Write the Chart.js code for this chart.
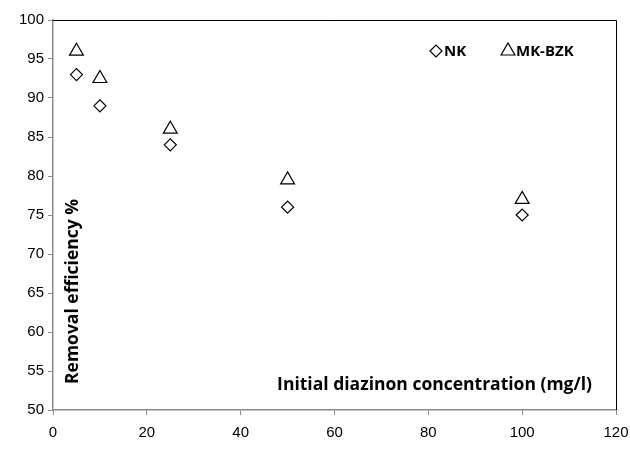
<!DOCTYPE html>
<html>
<head>
<meta charset="utf-8">
<script src="https://cdn.jsdelivr.net/npm/chart.js@4"></script>
<style>
  body { margin: 0; background: #fff; }
  #wrap { width: 630px; height: 449px; }
</style>
</head>
<body>
<div id="wrap"><canvas id="chart"></canvas></div>
<script>
const concentrations = [5, 10, 25, 50, 100]
const nkValues = [93, 89, 84, 76, 75]
const mkbzkValues = [96, 92.5, 86, 79.5, 77]
const seriesNames = ['NK', 'MK-BZK']
const xTitle = 'Initial diazinon concentration (mg/l)'
const yTitle = 'Removal efficiency %'

const toPoints = (xs, ys) => xs.map((x, i) => ({ x: x, y: ys[i] }))

// axis titles, legend and the black top/right frame are drawn inside the plot area
const insidePlugin = {
  id: 'inside',
  afterDraw(chart) {
    const { ctx, chartArea: a } = chart
    ctx.save()
    ctx.strokeStyle = '#000'
    ctx.lineWidth = 1
    ctx.beginPath()
    ctx.moveTo(a.left, a.top + 0.5)
    ctx.lineTo(a.right + 0.5, a.top + 0.5)
    ctx.lineTo(a.right + 0.5, a.bottom)
    ctx.stroke()

    ctx.fillStyle = '#000'
    ctx.font = 'bold 17.5px "Open Sans"'
    ctx.textBaseline = 'middle'
    ctx.textAlign = 'right'
    ctx.fillText(xTitle, 592, 385)

    ctx.save()
    ctx.translate(73, 384)
    ctx.rotate(-Math.PI / 2)
    ctx.textAlign = 'left'
    ctx.fillText(yTitle, 0, 0)
    ctx.restore()

    // legend
    ctx.font = 'bold 15px "Open Sans"'
    ctx.textAlign = 'left'
    const legendX = [436, 508]
    chart.data.datasets.forEach((d, i) => {
      ctx.fillStyle = '#fff'
      ctx.strokeStyle = '#000'
      ctx.lineWidth = 1.2
      Chart.helpers.drawPoint(ctx, {
        pointStyle: d.pointStyle, radius: d.pointRadius, rotation: 0, borderWidth: 1.2
      }, legendX[i], 51)
      ctx.fillStyle = '#000'
      ctx.fillText(d.label, legendX[i] + 8, 52)
    })
    ctx.restore()
  }
}

new Chart(document.getElementById('chart'), {
  type: 'scatter',
  data: {
    datasets: [{
      label: seriesNames[0],
      data: toPoints(concentrations, nkValues),
      pointStyle: 'rectRot',
      pointRadius: 6,
      pointHoverRadius: 6,
      borderColor: '#000',
      backgroundColor: '#fff',
      borderWidth: 1.2
    }, {
      label: seriesNames[1],
      data: toPoints(concentrations, mkbzkValues),
      pointStyle: 'triangle',
      pointRadius: 8,
      pointHoverRadius: 8,
      borderColor: '#000',
      backgroundColor: '#fff',
      borderWidth: 1.2
    }]
  },
  options: {
    responsive: true,
    maintainAspectRatio: false,
    animation: false,
    layout: { padding: { left: 0, right: 0, top: 20, bottom: 0 } },
    plugins: {
      legend: { display: false },
      tooltip: { enabled: false }
    },
    scales: {
      x: {
        type: 'linear',
        min: 0, max: 120,
        ticks: { stepSize: 20, color: '#000', font: { family: 'Liberation Sans', size: 15 }, padding: 9 },
        grid: { drawOnChartArea: false, tickLength: 5, color: '#8a8a8a' },
        border: { color: '#8a8a8a', width: 1.5 },
        afterFit: s => { s.height = 39; s.paddingRight = 14; s.paddingLeft = 0 }
      },
      y: {
        min: 50, max: 100,
        ticks: { stepSize: 5, color: '#000', font: { family: 'Liberation Sans', size: 15 }, padding: 4 },
        grid: { drawOnChartArea: false, tickLength: 5, color: '#8a8a8a' },
        border: { color: '#8a8a8a', width: 1.5 },
        afterFit: s => { s.width = 53 }
      }
    }
  },
  plugins: [insidePlugin]
})
</script>
</body>
</html>
